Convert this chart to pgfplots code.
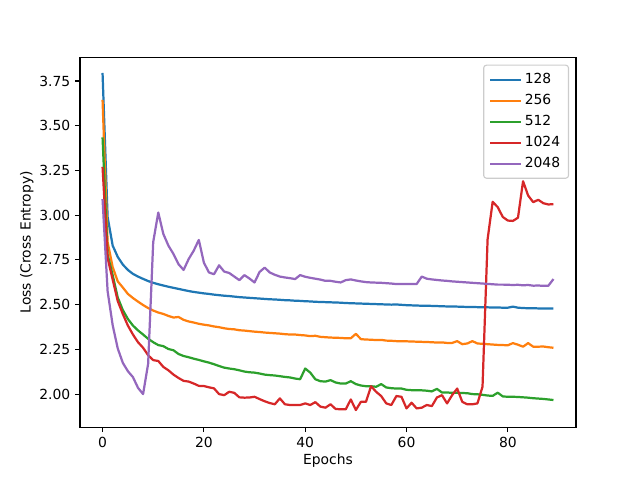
\documentclass[border=0pt]{standalone}
\usepackage{pgfplots}
\pgfplotsset{compat=1.18}
\usepackage{pgfplotstable}
\usepackage{fontspec}
\setmainfont{DejaVu Sans}
\definecolor{c0}{HTML}{1F77B4}
\definecolor{c1}{HTML}{FF7F0E}
\definecolor{c2}{HTML}{2CA02C}
\definecolor{c3}{HTML}{D62728}
\definecolor{c4}{HTML}{9467BD}
\definecolor{legedge}{HTML}{CCCCCC}
\pgfplotstableread{
ep b128 b256 b512 b1024 b2048
0 3.795 3.645 3.435 3.270 3.090
1 2.990 2.850 2.780 2.760 2.575
2 2.830 2.710 2.665 2.640 2.385
3 2.767 2.630 2.540 2.520 2.255
4 2.724 2.596 2.470 2.448 2.175
5 2.694 2.560 2.420 2.383 2.128
6 2.672 2.537 2.383 2.333 2.095
7 2.657 2.517 2.356 2.290 2.035
8 2.644 2.498 2.333 2.259 2.000
9 2.632 2.481 2.309 2.217 2.170
10 2.622 2.467 2.290 2.190 2.850
11 2.614 2.456 2.274 2.185 3.015
12 2.607 2.448 2.268 2.152 2.895
13 2.600 2.437 2.252 2.133 2.830
14 2.594 2.428 2.245 2.109 2.783
15 2.588 2.431 2.224 2.090 2.726
16 2.582 2.415 2.213 2.074 2.694
17 2.576 2.406 2.206 2.070 2.755
18 2.571 2.400 2.198 2.059 2.802
19 2.567 2.393 2.191 2.046 2.862
20 2.563 2.388 2.183 2.045 2.735
21 2.560 2.384 2.176 2.038 2.680
22 2.556 2.378 2.167 2.032 2.670
23 2.553 2.374 2.157 2.000 2.720
24 2.550 2.368 2.148 1.994 2.685
25 2.548 2.364 2.143 2.013 2.677
26 2.545 2.362 2.139 2.007 2.657
27 2.542 2.357 2.133 1.982 2.637
28 2.540 2.355 2.126 1.980 2.665
29 2.538 2.352 2.122 1.981 2.646
30 2.536 2.349 2.120 1.985 2.624
31 2.534 2.347 2.115 1.972 2.683
32 2.532 2.344 2.109 1.960 2.707
33 2.530 2.342 2.106 1.950 2.680
34 2.529 2.340 2.104 1.943 2.667
35 2.527 2.338 2.100 1.976 2.657
36 2.525 2.335 2.096 1.943 2.652
37 2.524 2.333 2.093 1.939 2.648
38 2.522 2.333 2.087 1.939 2.643
39 2.521 2.330 2.083 1.939 2.665
40 2.519 2.328 2.143 1.948 2.656
41 2.518 2.324 2.120 1.939 2.650
42 2.516 2.326 2.083 1.955 2.645
43 2.515 2.320 2.072 1.930 2.640
44 2.514 2.318 2.070 1.924 2.633
45 2.513 2.316 2.078 1.943 2.633
46 2.512 2.315 2.065 1.917 2.628
47 2.511 2.314 2.059 1.915 2.624
48 2.509 2.312 2.059 1.915 2.637
49 2.508 2.312 2.072 1.970 2.641
50 2.507 2.337 2.056 1.911 2.635
51 2.506 2.307 2.048 1.957 2.630
52 2.505 2.305 2.044 1.957 2.626
53 2.504 2.304 2.044 2.044 2.624
54 2.503 2.302 2.041 2.013 2.623
55 2.502 2.303 2.056 1.989 2.622
56 2.501 2.299 2.037 1.948 2.620
57 2.500 2.298 2.033 1.939 2.618
58 2.501 2.296 2.031 1.989 2.615
59 2.499 2.295 2.031 1.985 2.616
60 2.497 2.295 2.024 1.920 2.615
61 2.496 2.294 2.022 1.952 2.616
62 2.495 2.293 2.022 1.920 2.615
63 2.494 2.292 2.021 1.924 2.657
64 2.494 2.291 2.019 1.939 2.645
65 2.493 2.290 2.015 1.933 2.641
66 2.492 2.288 2.029 1.981 2.638
67 2.491 2.289 2.009 1.994 2.635
68 2.490 2.286 2.009 1.948 2.633
69 2.490 2.286 2.007 1.994 2.630
70 2.489 2.296 2.007 2.031 2.628
71 2.488 2.279 2.006 1.957 2.626
72 2.487 2.283 2.005 1.943 2.624
73 2.487 2.296 2.000 1.943 2.622
74 2.486 2.283 1.999 1.948 2.620
75 2.485 2.281 1.996 2.041 2.618
76 2.485 2.279 1.992 2.865 2.616
77 2.484 2.277 1.990 3.075 2.614
78 2.484 2.275 2.008 3.045 2.612
79 2.483 2.274 1.987 2.990 2.612
80 2.483 2.273 1.985 2.970 2.611
81 2.489 2.285 1.985 2.968 2.610
82 2.483 2.276 1.984 2.986 2.611
83 2.481 2.265 1.982 3.190 2.608
84 2.480 2.285 1.980 3.110 2.610
85 2.480 2.265 1.977 3.073 2.606
86 2.479 2.265 1.975 3.086 2.607
87 2.479 2.266 1.973 3.067 2.605
88 2.478 2.262 1.970 3.060 2.606
89 2.479 2.259 1.967 3.062 2.643
}\losstable
\begin{document}
\begin{tikzpicture}
\useasboundingbox (0,0) rectangle (460.8pt,345.6pt);
\begin{axis}[
  at={(57.6pt,38.02pt)}, anchor=south west,
  scale only axis, width=357.12pt, height=266.11pt,
  xmin=-4.45, xmax=93.45, ymin=1.815, ymax=3.881,
  xtick={0,20,40,60,80},
  ytick={2.00,2.25,2.50,2.75,3.00,3.25,3.50,3.75},
  yticklabel style={/pgf/number format/.cd, fixed, fixed zerofill, precision=2},
  /pgf/number format/assume math mode=true,
  tick align=outside, major tick length=3.5pt,
  tick style={line width=0.8pt, black},
  xtick pos=bottom, ytick pos=left,
  axis line style={line width=0.8pt},
  font=\fontsize{10}{12}\selectfont,
  ticklabel style={font=\fontsize{10}{12}\selectfont},
  xlabel={Epochs}, ylabel={Loss (Cross Entropy)},
  xlabel style={at={(axis description cs:0.5,-0.1022)}, anchor=base},
  ylabel style={at={(axis description cs:-0.0997,0.5)}, anchor=base},
  every axis plot/.append style={line width=1.6pt, line join=round},
  legend style={at={(0.986,0.981)}, anchor=north east, draw=legedge,
    rounded corners=2pt, fill=white, fill opacity=0.8, text opacity=1,
    font=\fontsize{10}{12}\selectfont, line width=0.8pt,
    row sep=2.2pt, inner xsep=4pt, inner ysep=4pt},
  legend cell align=left,
  legend image code/.code={\draw[#1] (0pt,0pt) -- (22pt,0pt);},
]
\addplot[c0] table[x=ep,y=b128] {\losstable};
\addlegendentry{128}
\addplot[c1] table[x=ep,y=b256] {\losstable};
\addlegendentry{256}
\addplot[c2] table[x=ep,y=b512] {\losstable};
\addlegendentry{512}
\addplot[c3] table[x=ep,y=b1024] {\losstable};
\addlegendentry{1024}
\addplot[c4] table[x=ep,y=b2048] {\losstable};
\addlegendentry{2048}
\end{axis}
\end{tikzpicture}
\end{document}
